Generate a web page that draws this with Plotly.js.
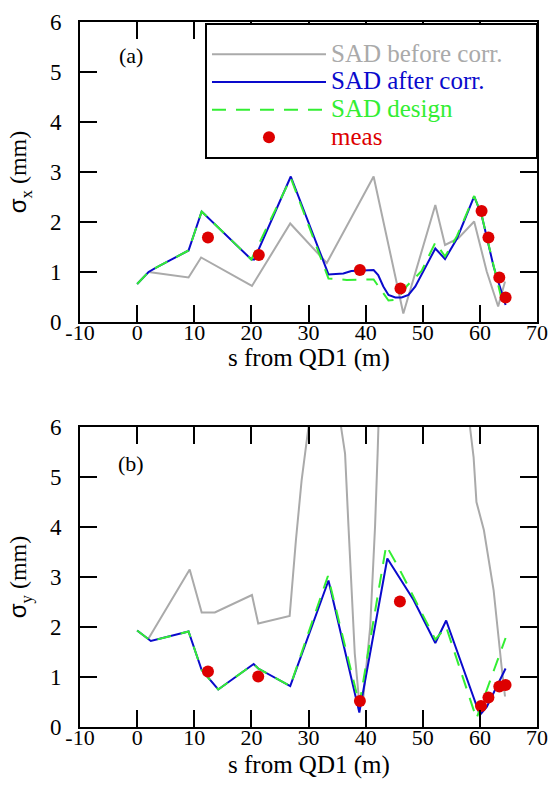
<!DOCTYPE html>
<html>
<head>
<meta charset="utf-8">
<script src="https://cdn.plot.ly/plotly-3.0.1.min.js"></script>
<style>html,body{margin:0;padding:0;background:#fff;}#chart{width:550px;height:789px;}</style>
</head>
<body>
<div id="chart"></div>
<script>
// ---------- Data: panel (a) sigma_x ----------
const legendNames = ["SAD before corr.", "SAD after corr.", "SAD design", "meas"];

const sBeforeX = [2, 9, 11.2, 20.1, 26.8, 33.2, 41.4, 46.6, 52.2, 53.9, 56.2, 59.0, 61.2, 63.2, 64.4];
const sigBeforeX = [1.0, 0.89, 1.29, 0.72, 1.97, 1.18, 2.91, 0.17, 2.34, 1.54, 1.67, 2.01, 1.01, 0.31, 0.81];

const sAfterX = [0, 2, 3.4, 9, 11.3, 20, 20.5, 26.9, 33.5, 36.1, 37.5, 41.4, 42.2, 43.1, 44.0, 45.2, 46.3, 47.5, 48.7, 49.8, 52.2, 53.9, 56.0, 59.0, 60.3, 62.4, 64.5];
const sigAfterX = [0.76, 1.0, 1.09, 1.43, 2.21, 1.25, 1.25, 2.91, 0.95, 0.97, 1.02, 1.04, 0.94, 0.71, 0.54, 0.49, 0.49, 0.54, 0.71, 0.94, 1.47, 1.26, 1.67, 2.51, 2.14, 1.11, 0.34];

const sDesignX = [0, 2, 3.4, 9, 11.3, 20, 26.9, 33.5, 36.7, 41.4, 44.0, 45.5, 47.3, 49.8, 52.2, 53.9, 56.0, 59.0, 60.3, 62.4, 64.0];
const sigDesignX = [0.76, 1.0, 1.09, 1.43, 2.21, 1.25, 2.88, 0.87, 0.84, 0.85, 0.43, 0.45, 0.73, 1.02, 1.59, 1.31, 1.72, 2.52, 2.14, 1.11, 0.36];

const sMeasX = [12.4, 21.3, 39.0, 46.1, 60.3, 61.5, 63.4, 64.5];
const sigMeasX = [1.69, 1.34, 1.04, 0.67, 2.22, 1.69, 0.89, 0.49];

// ---------- Data: panel (b) sigma_y ----------
const sBeforeY = [2, 9.2, 11.3, 13.6, 20.1, 21.2, 26.7, 27.8, 28.8, 30.0, 30.5, 35.3, 35.7, 36.4, 37.0, 38.1, 38.9, 39.6, 40.8, 41.65, 42.1, 42.2, 42.5, 57.9, 58.3, 58.9, 59.4, 60.7, 62.4, 63.8, 64.4];
const sigBeforeY = [1.77, 3.15, 2.29, 2.29, 2.64, 2.07, 2.22, 3.74, 4.94, 6.0, 7.0, 7.0, 6.0, 5.47, 4.01, 1.47, 0.47, 0.6, 2.0, 4.01, 5.47, 5.97, 7.0, 7.0, 5.97, 5.4, 4.5, 3.94, 2.74, 1.21, 0.61];

const sAfterY = [0, 2.4, 9, 11.3, 14.2, 20.4, 21.2, 26.8, 33.5, 38.9, 43.8, 48.4, 52.2, 54.1, 60.0, 61.2, 64.5];
const sigAfterY = [1.93, 1.72, 1.91, 1.14, 0.75, 1.26, 1.17, 0.82, 2.93, 0.29, 3.37, 2.54, 1.68, 2.13, 0.24, 0.40, 1.17];

const sDesignY = [0, 2.4, 9, 11.3, 14.2, 20.4, 21.2, 26.8, 33.4, 38.9, 43.6, 46.0, 48.4, 52.2, 54.1, 59.4, 62.5, 64.5];
const sigDesignY = [1.93, 1.72, 1.91, 1.14, 0.75, 1.26, 1.17, 0.82, 3.02, 0.45, 3.63, 3.14, 2.60, 1.75, 2.00, 0.17, 1.15, 1.78];

const sMeasY = [12.4, 21.2, 39.0, 46.0, 60.2, 61.5, 63.4, 64.5];
const sigMeasY = [1.11, 1.01, 0.52, 2.51, 0.42, 0.59, 0.81, 0.84];

const xTickVals = [-10, 0, 10, 20, 30, 40, 50, 60, 70];
const xTickText = ["-10", "0", "10", "20", "30", "40", "50", "60", "70"];
const yTickVals = [0, 1, 2, 3, 4, 5, 6];
const xTitle = "s from QD1 (m)";
const panelLabels = ["(a)", "(b)"];

// ---------- Styles ----------
const cGray = "#aaaaaa", cBlue = "#0a0acc", cGreen = "#33ee33", cRed = "#dd0000";
const serif = "Liberation Serif";

function lbl(name, color, pad) {
  return '<span style="color:' + color + ';font-size:25px">' + name + '</span>' + pad;
}
const padSpaces = "&nbsp;".repeat(6);

const traces = [
  {x: sBeforeX, y: sigBeforeX, xaxis: "x", yaxis: "y", mode: "lines", name: lbl(legendNames[0], cGray, padSpaces), line: {color: cGray, width: 2}, legendgroup: "a"},
  {x: sAfterX, y: sigAfterX, xaxis: "x", yaxis: "y", mode: "lines", name: lbl(legendNames[1], cBlue, ""), line: {color: cBlue, width: 2}, legendgroup: "b"},
  {x: sDesignX, y: sigDesignX, xaxis: "x", yaxis: "y", mode: "lines", name: lbl(legendNames[2], cGreen, ""), line: {color: cGreen, width: 2, dash: "14px,10px"}, legendgroup: "c"},
  {x: sMeasX, y: sigMeasX, xaxis: "x", yaxis: "y", mode: "markers", name: lbl(legendNames[3], cRed, ""), marker: {color: cRed, size: 12}, legendgroup: "d"},
  {x: sBeforeY, y: sigBeforeY, xaxis: "x2", yaxis: "y2", mode: "lines", showlegend: false, line: {color: cGray, width: 2}},
  {x: sAfterY, y: sigAfterY, xaxis: "x2", yaxis: "y2", mode: "lines", showlegend: false, line: {color: cBlue, width: 2}},
  {x: sDesignY, y: sigDesignY, xaxis: "x2", yaxis: "y2", mode: "lines", showlegend: false, line: {color: cGreen, width: 2, dash: "14px,10px"}},
  {x: sMeasY, y: sigMeasY, xaxis: "x2", yaxis: "y2", mode: "markers", showlegend: false, marker: {color: cRed, size: 12}}
];

function xAxis(anchor) {
  return {
    anchor: anchor, domain: [0, 1], range: [-10, 70], tickvals: xTickVals, ticktext: xTickText,
    ticks: "inside", ticklen: 17, tickwidth: 2, tickcolor: "black",
    showline: true, linewidth: 2, linecolor: "black", mirror: "ticks",
    showgrid: false, zeroline: false, ticklabelstandoff: -10, automargin: false,
    tickfont: {family: serif, size: 22, color: "black"}
  };
}
function yAxis(anchor, domain, sub) {
  return {
    anchor: anchor, domain: domain, range: [0, 6], tickvals: yTickVals,
    ticks: "inside", ticklen: 17, tickwidth: 2, tickcolor: "black",
    showline: true, linewidth: 2, linecolor: "black", mirror: "ticks",
    showgrid: false, zeroline: false, ticklabelstandoff: 12, automargin: false,
    tickfont: {family: serif, size: 23, color: "black"},
    title: {text: '<span style="font-family:Liberation Sans">σ</span><sub>' + sub + '</sub> (mm)', font: {family: serif, size: 24, color: "black"}, standoff: 16}
  };
}

const titleFont = {family: serif, size: 25, color: "black"};
const layout = {
  width: 550, height: 789,
  margin: {l: 80, r: 13, t: 22, b: 62, autoexpand: false},
  paper_bgcolor: "white", plot_bgcolor: "white",
  showlegend: true,
  legend: {
    x: 0.2735, y: 0.9986, xanchor: "left", yanchor: "top",
    bgcolor: "white", bordercolor: "black", borderwidth: 2,
    font: {family: serif, size: 19, color: "black"},
    title: {text: "&nbsp;", font: {family: serif, size: 8}},
    itemwidth: 114, tracegroupgap: 0, traceorder: "normal"
  },
  xaxis: xAxis("y"),
  yaxis: yAxis("x", [0.5745, 1], "x"),
  xaxis2: xAxis("y2"),
  yaxis2: yAxis("x2", [0, 0.4255], "y"),
  annotations: [
    {text: panelLabels[0], xref: "x", yref: "y", x: -1.0, y: 5.34, showarrow: false, font: {family: serif, size: 22, color: "black"}},
    {text: panelLabels[1], xref: "x2", yref: "y2", x: -1.0, y: 5.28, showarrow: false, font: {family: serif, size: 22, color: "black"}},
    {text: xTitle, xref: "x domain", yref: "y domain", x: 0.5, y: 0, yanchor: "middle", yshift: -36, showarrow: false, font: titleFont},
    {text: xTitle, xref: "x2 domain", yref: "y2 domain", x: 0.5, y: 0, yanchor: "middle", yshift: -38, showarrow: false, font: titleFont}
  ]
};

Plotly.newPlot("chart", traces, layout, {displayModeBar: false, staticPlot: true});
</script>
</body>
</html>
